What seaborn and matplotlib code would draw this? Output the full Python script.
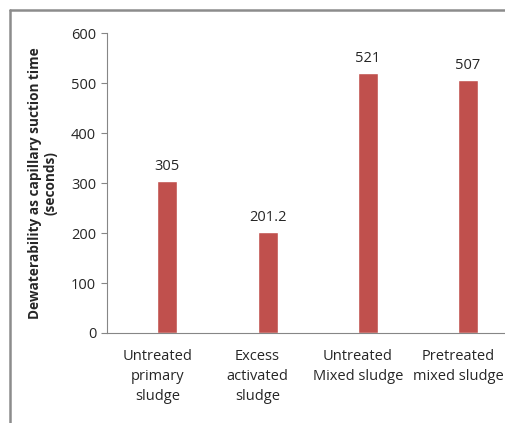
import matplotlib
matplotlib.use('Agg')
import matplotlib.pyplot as plt
import pandas as pd
import seaborn as sns
from matplotlib.lines import Line2D

# Данные графика.
categories = ['Untreated\nprimary\nsludge', 'Excess\nactivated\nsludge',
              'Untreated\nMixed sludge', 'Pretreated\nmixed sludge']
cst_values = [305, 201.2, 521, 507]
value_labels = ['305', '201.2', '521', '507']
y_ticks = [0, 100, 200, 300, 400, 500, 600]

sns.set_style('white')
plt.rcParams['font.family'] = ['Open Sans', 'DejaVu Sans']

figure = plt.figure(figsize=(5.06, 4.23), dpi=100)
ax = figure.add_axes([0.212, 0.2128, 0.788, 0.709])

# Пустой первый ряд, как в исходной диаграмме Excel, сдвигает столбцы вправо.
data = pd.DataFrame({'category': categories, 'value': cst_values,
                     'series': ['CST'] * len(categories)})
sns.barplot(data=data, x='category', y='value', hue='series',
            hue_order=['empty', 'CST'], palette=['#4F81BD', '#C0504D'],
            saturation=1, width=0.4, dodge=True, legend=False, ax=ax)

# Подписи значений над столбцами.
bars = [p for p in ax.patches if p.get_height() > 0]
for patch, label in zip(bars, value_labels):
    ax.annotate(label, xy=(patch.get_x() + patch.get_width() / 2, patch.get_height()),
                xytext=(0, 5), textcoords='offset points',
                ha='center', va='bottom', fontsize=10.5)

ax.set_ylim(0, 600)
ax.set_yticks(y_ticks)
ax.set_xlim(-0.5, 3.48)
ax.tick_params(axis='y', which='both', left=True, length=4, width=0.8,
               color='#868686', labelsize=10.5, pad=4)
ax.tick_params(axis='x', bottom=False, labelsize=10.5, pad=8)
for lbl in ax.get_xticklabels():
    lbl.set_linespacing(1.45)
ax.set_xlabel('')
ax.set_ylabel('Dewaterability as capillary suction time\n(seconds)',
              fontsize=9.8, fontweight='bold', labelpad=10, linespacing=1.1)

for s in 'top', 'right':
    ax.spines[s].set_visible(False)
for s in 'left', 'bottom':
    ax.spines[s].set_color('#868686')
    ax.spines[s].set_linewidth(0.8)

# Рамка вокруг диаграммы (левая и верхняя стороны).
x0, y0 = 10 / 506, 1 - 10 / 423
figure.lines.append(Line2D([x0, x0], [0, y0], transform=figure.transFigure,
                           color='#8c8c8c', linewidth=1.8))
figure.lines.append(Line2D([x0, 1.05], [y0, y0], transform=figure.transFigure,
                           color='#8c8c8c', linewidth=1.8))

figure.savefig('out.png', dpi=100)
